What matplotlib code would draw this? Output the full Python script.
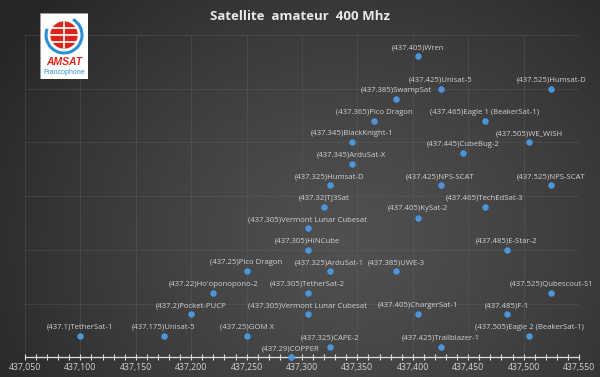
import numpy as np
import matplotlib
matplotlib.use("Agg")
import matplotlib.pyplot as plt
from matplotlib.ticker import MultipleLocator, FuncFormatter
from matplotlib.patches import Rectangle, Circle, Arc

# ---- data ----
names = ["Wren", "Unisat-5", "Humsat-D", "SwampSat", "Pico Dragon", "Eagle 1 (BeakerSat-1)",
         "BlackKnight-1", "WE_WISH", "CubeBug-2", "ArduSat-X", "Humsat-D", "NPS-SCAT",
         "NPS-SCAT", "TJ3Sat", "TechEdSat-3", "KySat-2", "Vermont Lunar Cubesat", "HiNCube",
         "E-Star-2", "Pico Dragon", "ArduSat-1", "UWE-3", "Ho'oponopono-2", "TetherSat-2",
         "Qubescout-S1", "Pocket-PUCP", "Vermont Lunar Cubesat", "ChargerSat-1", "F-1",
         "TetherSat-1", "Unisat-5", "GOM X", "Eagle 2 (BeakerSat-1)", "CAPE-2",
         "Trailblazer-1", "COPPER"]
freqs_mhz = [437.405, 437.425, 437.525, 437.385, 437.365, 437.465,
             437.345, 437.505, 437.445, 437.345, 437.325, 437.425,
             437.525, 437.32, 437.465, 437.405, 437.305, 437.305,
             437.485, 437.25, 437.325, 437.385, 437.22, 437.305,
             437.525, 437.2, 437.305, 437.405, 437.485,
             437.1, 437.175, 437.25, 437.505, 437.325,
             437.425, 437.29]
levels = [28, 25, 25, 24, 22, 22,
          20, 20, 19, 18, 16, 16,
          16, 14, 14, 13, 12, 10,
          10, 8, 8, 8, 6, 6,
          6, 4, 4, 4, 4,
          2, 2, 2, 2, 1,
          1, 0]
title = "Satellite  amateur  400 Mhz"
x_min, x_max, x_major, x_minor = 437050, 437550, 50, 10
y_min, y_max, y_step = 0, 30, 5

# ---- figure ----
W, H, DPI = 600, 377, 100
fig = plt.figure(figsize=(W / DPI, H / DPI), dpi=DPI)

# background radial gradient
bg = fig.add_axes([0, 0, 1, 1], zorder=-10)
yy, xx = np.mgrid[0:H, 0:W]
cx, cy = 350, 240
r = np.sqrt(((xx - cx) / 1.15) ** 2 + ((yy - cy) / 1.0) ** 2)
t = np.clip(r / 360.0, 0, 1)
c0, c1 = 0x50 / 255, 0x26 / 255
g = c0 + (c1 - c0) * t ** 1.3
img = np.dstack([g, g, g])
bg.imshow(img, aspect="auto", extent=[0, W, H, 0])
bg.set_axis_off()

left, right, top, bottom = 25, 579, 35, 357.3
ax = fig.add_axes([left / W, 1 - bottom / H, (right - left) / W, (bottom - top) / H])
ax.set_facecolor("none")

xs = [f * 1000 for f in freqs_mhz]
ax.scatter(xs, levels, s=22, color="#4a95dc", zorder=5, clip_on=False, linewidths=0)
lab_font = ["Open Sans", "DejaVu Sans"]
for n, f, x, y in zip(names, freqs_mhz, xs, levels):
    ax.annotate(f"({f:g}){n}", (x, y), xytext=(0, 6.3), textcoords="offset points",
                ha="center", va="center", fontsize=5.6, color="#d0d0d0",
                family=lab_font, zorder=6, annotation_clip=False)

ax.set_xlim(x_min, x_max)
ax.set_ylim(y_min, y_max)
ax.xaxis.set_major_locator(MultipleLocator(x_major))
ax.xaxis.set_minor_locator(MultipleLocator(x_minor))
ax.yaxis.set_major_locator(MultipleLocator(y_step))
ax.xaxis.set_major_formatter(FuncFormatter(lambda v, p: f"{int(round(v)):,}"))
ax.tick_params(axis="x", which="both", direction="inout", length=4.5, width=0.8,
               color="#e0e0e0", labelsize=6.3, labelcolor="#d4d4d4", pad=2)
for lbl in ax.get_xticklabels():
    lbl.set_family(lab_font)
ax.tick_params(axis="y", which="both", left=False, labelleft=False)
ax.grid(True, which="major", color="#6a6a6a", linewidth=0.6, alpha=0.35)
for s in ["top", "right", "left"]:
    ax.spines[s].set_visible(False)
ax.spines["bottom"].set_color("#e0e0e0")
ax.spines["bottom"].set_linewidth(0.9)
ax.set_axisbelow(True)

fig.text(0.5, 1 - 16 / H, title, ha="center", va="center", fontsize=9.5,
         fontweight="bold", color="#e8e8e8", family=lab_font)

# logo (approximation)
lg = fig.add_axes([40 / W, 1 - 79 / H, 48 / W, 66 / H], zorder=20)
lg.set_xlim(0, 48)
lg.set_ylim(66, 0)
lg.set_axis_off()
lg.add_patch(Rectangle((0, 0), 48, 66, facecolor="white", edgecolor="#999999", lw=0.6))
lg.add_patch(Circle((24, 22), 13, color="#d9261c"))
for yl in [15, 22, 29]:
    lg.plot([11, 37], [yl, yl], color="white", lw=1.2)
lg.plot([24, 24], [9, 35], color="white", lw=1.2)
lg.add_patch(Arc((24, 22), 36, 36, theta1=-60, theta2=200, color="#2b8fd6", lw=2.2))
lg.text(24, 49, "AMSAT", ha="center", va="center", fontsize=7.5, fontweight="bold",
        style="italic", color="#d9261c", family=["Liberation Sans", "DejaVu Sans"])
lg.text(24, 59, "Francophone", ha="center", va="center", fontsize=5,
        color="#2b8fd6", family=["Liberation Sans", "DejaVu Sans"])

fig.savefig("out.png", dpi=DPI)
